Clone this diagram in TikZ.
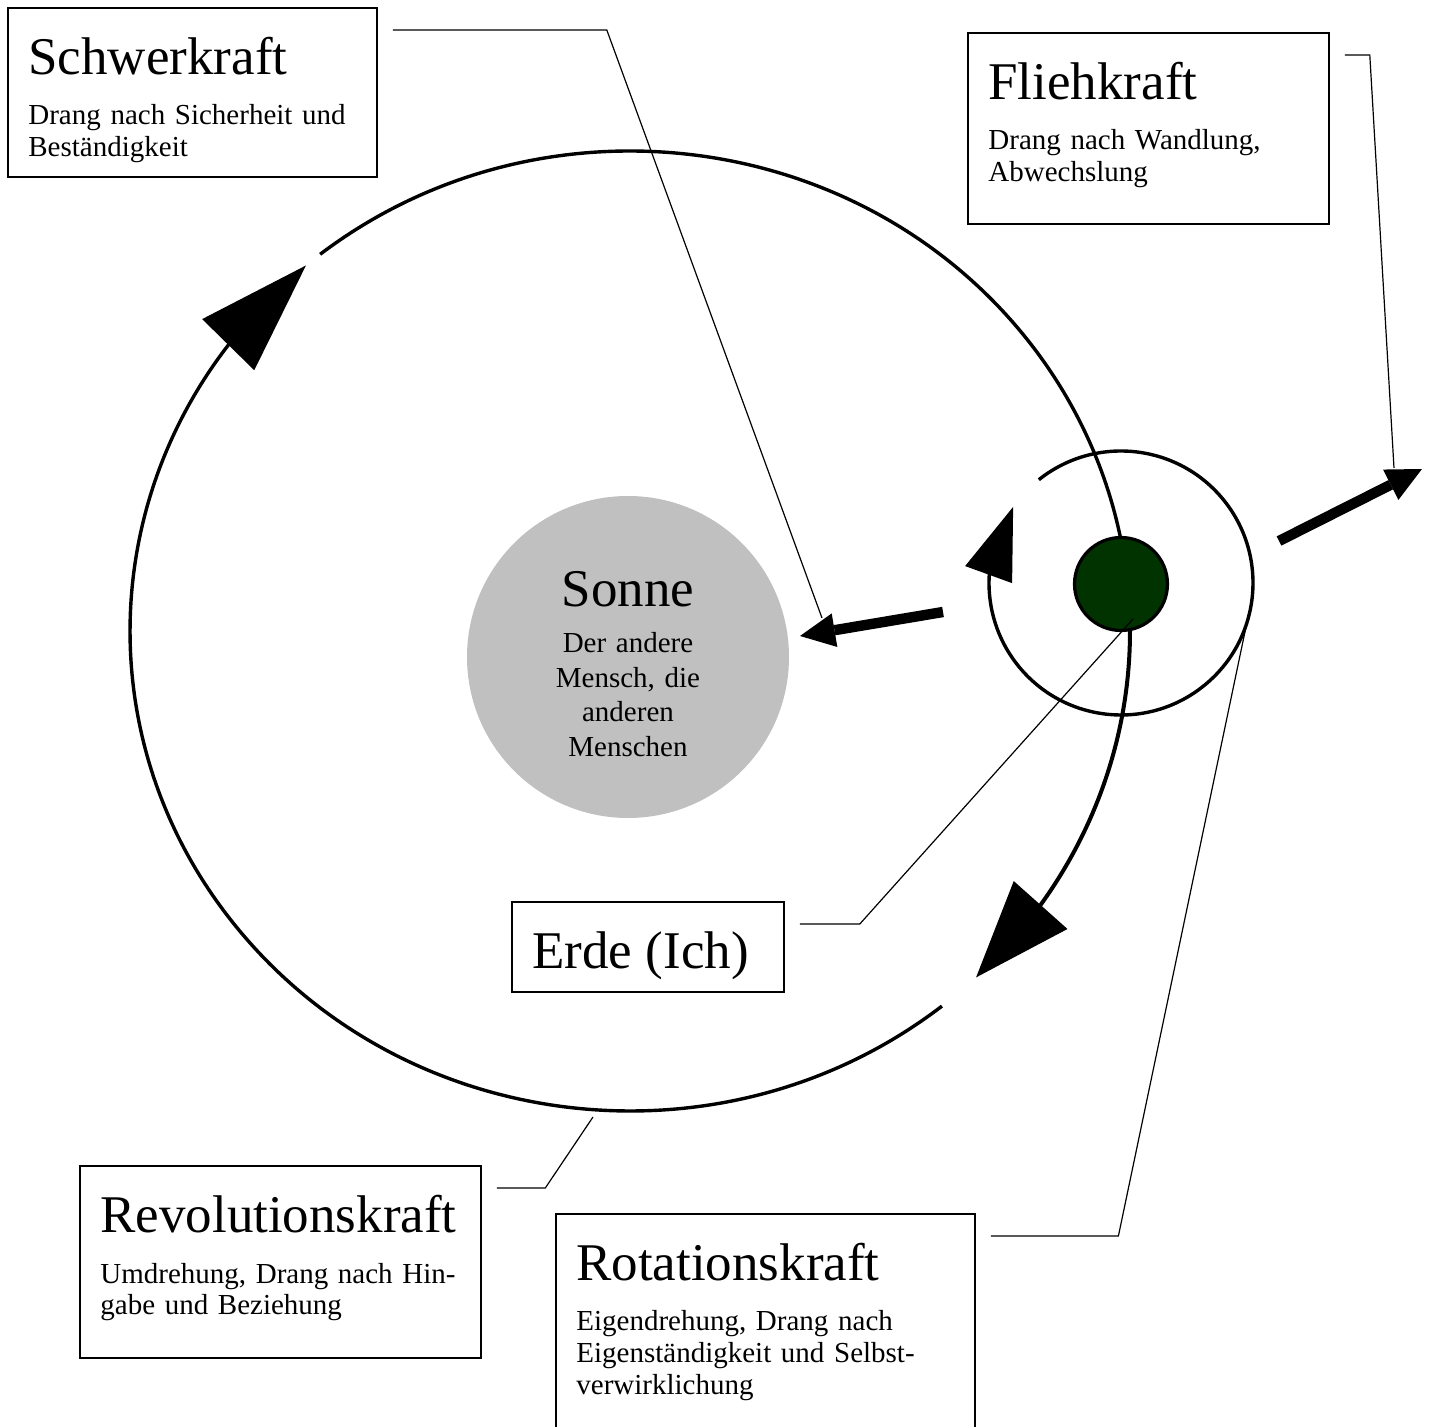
\documentclass[tikz,border=0pt]{standalone}
\usepackage{fontspec}
\setmainfont{Liberation Serif}
\usepackage{xcolor}
\definecolor{SonneGray}{RGB}{192, 192, 192}
\definecolor{ErdeGreen}{RGB}{0, 51, 0}
\usetikzlibrary{arrows.meta, bending, positioning}

\begin{document}
\begin{tikzpicture}[
        x=0.5pt, y=-0.5pt,
        kraftbox/.style={rectangle, draw, line width=0.9pt, anchor=north west, inner sep=0pt},
        kraftname/.style={font=\fontsize{26.5}{30}\selectfont, anchor=base west, inner sep=0pt},
        kraftnote/.style={font=\fontsize{14.5}{16}\selectfont, align=left, text width=#1, anchor=base west, inner sep=0pt},
        orbit/.style={line width=1.7pt},
        callout/.style={line width=0.6pt},
        force/.style={line width=5.2pt, -{Triangle[length=17.5pt, width=17pt, line width=0pt]}}
    ]
        \useasboundingbox (0,0) rectangle (1432,1427);

        % Centres
        \coordinate (bahn) at (630,631);
        \coordinate (spin) at (1121,583);

        % Sun
        \node[circle, fill=SonneGray, minimum size=161pt, inner sep=0pt] (sonne) at (628,657) {};
        \node[font=\fontsize{26.5}{30}\selectfont, anchor=base, inner sep=0pt] (sonnename) at (628,607) {Sonne};
        \node[font=\fontsize{14.5}{17.2}\selectfont, align=center, text width=80pt, anchor=base, inner sep=0pt] (sonnenote) at (628,653) {Der andere\\ Mensch, die\\ anderen\\ Menschen};

        % Orbit and rotation
        \draw[orbit, -{Triangle[length=55.5pt, width=36.5pt, line width=0pt, flex]}]
            ([shift={(51.4:500 and 480)}]bahn) arc[start angle=51.4, end angle=229.6, x radius=500, y radius=480];
        \draw[orbit] ([shift={(231.7:500 and 480)}]bahn) arc[start angle=231.7, end angle=360, x radius=500, y radius=480];
        \draw[orbit, line width=2pt, -{Triangle[length=48.5pt, width=36pt, line width=0pt, flex]}]
            ([shift={(0:500 and 480)}]bahn) arc[start angle=0, end angle=46.2, x radius=500, y radius=480];
        \draw[orbit, -{Triangle[length=36pt, width=25pt, line width=0pt, flex]}]
            ([shift={(231.5:132)}]spin) arc[start angle=231.5, end angle=575.2, radius=132];

        % Earth
        \node[circle, draw, line width=1.6pt, fill=ErdeGreen, minimum size=46.5pt, inner sep=0pt] (erde) at (1121,584) {};

        % Forces
        \coordinate (zugstart) at (943,612);
        \coordinate (zugtip) at (800,636);
        \coordinate (fliehstart) at (1279,541);
        \coordinate (fliehtip) at (1422,469);
        \draw[force] (zugstart) -- (zugtip);
        \draw[force] (fliehstart) -- (fliehtip);

        % Boxes
        \node[kraftbox, minimum width=184.5pt, minimum height=84.5pt] (schwer) at (7,7) {};
        \node[kraftname] (schwername) at ([xshift=10.5pt, yshift=-34pt]schwer.north west) {Schwerkraft};
        \node[kraftnote=165pt] (schwernote) at ([yshift=-25pt]schwername.base west) {Drang nach Sicherheit und\\ Beständigkeit};

        \node[kraftbox, minimum width=180.5pt, minimum height=95.5pt] (flieh) at (967,32) {};
        \node[kraftname] (fliehname) at ([xshift=10.5pt, yshift=-34pt]flieh.north west) {Fliehkraft};
        \node[kraftnote=160pt] (fliehnote) at ([yshift=-25pt]fliehname.base west) {Drang nach Wandlung,\\ Abwechslung};

        \node[kraftbox, minimum width=136pt, minimum height=45pt] (erdebox) at (511,901) {};
        \node[kraftname] (erdename) at ([xshift=10.5pt, yshift=-34pt]erdebox.north west) {Erde (Ich)};

        \node[kraftbox, minimum width=200.5pt, minimum height=96pt] (revolution) at (79,1165) {};
        \node[kraftname] (revolutionname) at ([xshift=10.5pt, yshift=-34pt]revolution.north west) {Revolutionskraft};
        \node[kraftnote=180pt] (revolutionnote) at ([yshift=-25pt]revolutionname.base west) {Umdrehung, Drang nach Hin-\\ gabe und Beziehung};

        \node[kraftbox, minimum width=209.5pt, minimum height=110pt] (rotation) at (555,1213) {};
        \node[kraftname] (rotationname) at ([xshift=10.5pt, yshift=-34pt]rotation.north west) {Rotationskraft};
        \node[kraftnote=190pt] (rotationnote) at ([yshift=-25pt]rotationname.base west) {Eigendrehung, Drang nach\\ Eigenständigkeit und Selbst-\\ verwirklichung};

        % Callouts
        \coordinate (schwerend) at (822,618);
        \coordinate (fliehend) at (1394,468);
        \coordinate (erdeend) at (1133,619);
        \coordinate (revolutionend) at (593,1117);
        \coordinate (rotationend) at ([shift={(17.5:132)}]spin);
        \draw[callout] ([xshift=7.5pt, yshift=-11.5pt]schwer.north east) -- ++(214,0) -- (schwerend);
        \draw[callout] ([xshift=7.5pt, yshift=-11.5pt]flieh.north east) -- ++(25,0) -- (fliehend);
        \draw[callout] ([xshift=7.5pt, yshift=-11.5pt]erdebox.north east) -- ++(60,0) -- (erdeend);
        \draw[callout] ([xshift=7.5pt, yshift=-11.5pt]revolution.north east) -- ++(48.5,0) -- (revolutionend);
        \draw[callout] ([xshift=7.5pt, yshift=-11.5pt]rotation.north east) -- ++(127.6,0) -- (rotationend);

    \end{tikzpicture}
\end{document}
